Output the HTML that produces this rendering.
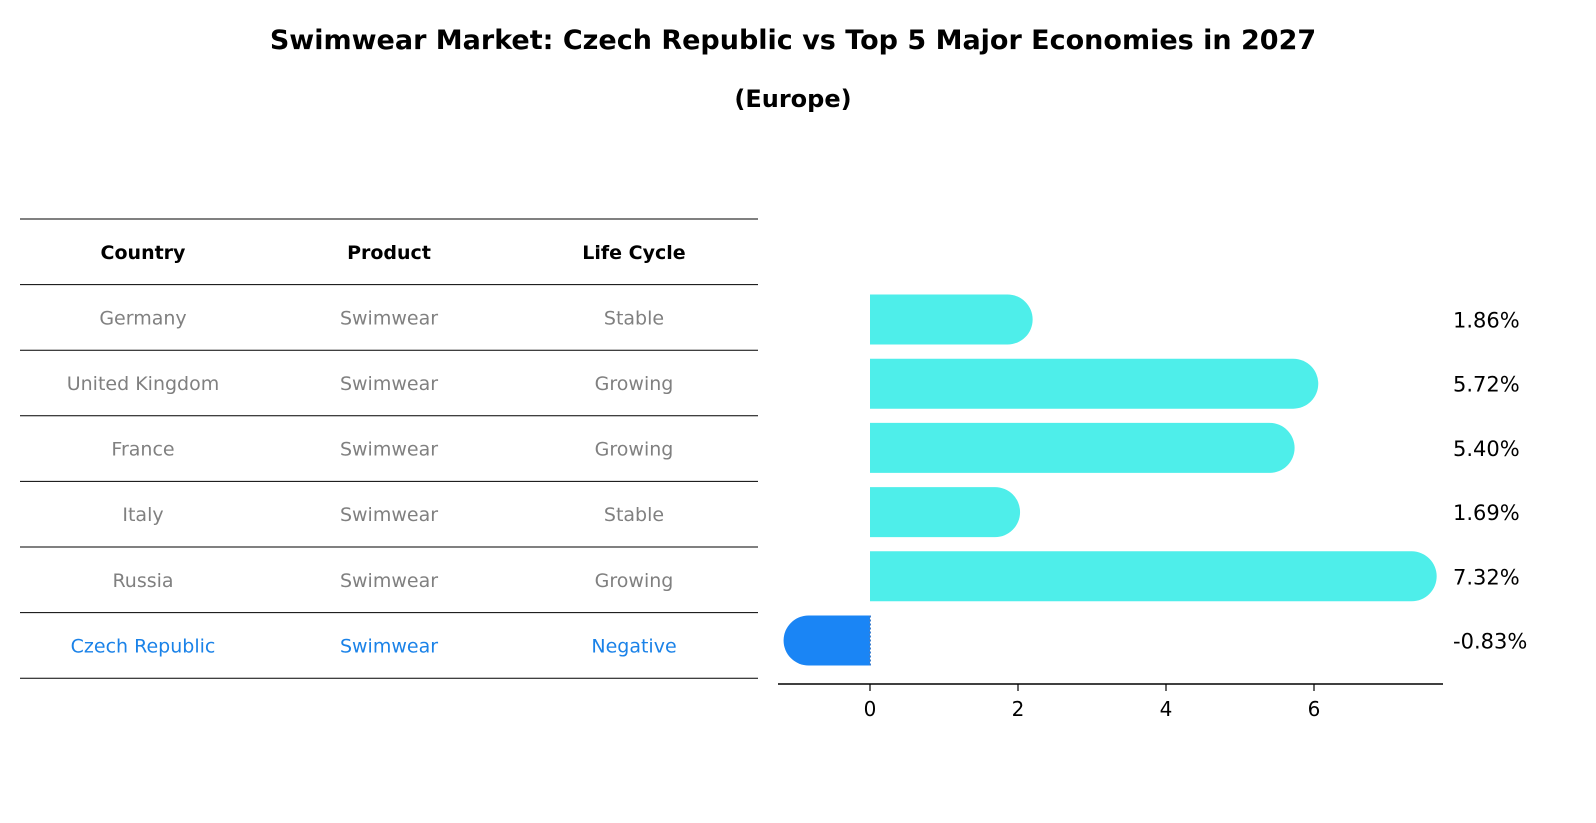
<!DOCTYPE html>
<html><head><meta charset="utf-8"><style>
html,body{margin:0;padding:0;background:#fff;overflow:hidden;width:1596px;height:823px;}
svg{display:block;}
svg text{font-family:"DejaVu Sans","Liberation Sans",sans-serif;}
</style></head><body>
<svg width="1596" height="823" viewBox="0 0 1596 823" xmlns="http://www.w3.org/2000/svg">
<text x="793" y="49" text-anchor="middle" font-size="27" font-weight="bold">Swimwear Market: Czech Republic vs Top 5 Major Economies in 2027</text>
<text x="793" y="107" text-anchor="middle" font-size="24" font-weight="bold">(Europe)</text>
<g id="table"></g>
<g id="bars"></g>
</svg>
<script>
const countries=["Germany","United Kingdom","France","Italy","Russia","Czech Republic"];
const products=["Swimwear","Swimwear","Swimwear","Swimwear","Swimwear","Swimwear"];
const lifeCycles=["Stable","Growing","Growing","Stable","Growing","Negative"];
const values=[1.86,5.72,5.40,1.69,7.32,-0.83];
const ticks=[0,2,4,6];
const NS="http://www.w3.org/2000/svg";
function mk(tag,attrs,parent,text){const e=document.createElementNS(NS,tag);for(const k in attrs)e.setAttribute(k,attrs[k]);if(text!==undefined)e.textContent=text;parent.appendChild(e);return e;}
const tbl=document.getElementById('table');
const rowTop=219,rowH=65.6,colX=[143,389,634];
const headers=["Country","Product","Life Cycle"];
for(let i=0;i<=countries.length+1;i++){
  const l=mk('line',{x1:20,x2:758,y1:rowTop+i*rowH,y2:rowTop+i*rowH,stroke:'#000','stroke-width':1},tbl);
  
  
}
headers.forEach((h,j)=>{
  const t=mk('text',{x:colX[j],y:rowTop+rowH/2+7,'text-anchor':'middle','font-size':19,'font-weight':'bold'},tbl,h);
  
  
});
countries.forEach((c,i)=>{
  const y=rowTop+(i+1.5)*rowH+7;
  const col=i===countries.length-1?'#1a82e8':'#808080';
  [c,products[i],lifeCycles[i]].forEach((v,j)=>{
    const t=mk('text',{x:colX[j],y:y,'text-anchor':'middle','font-size':19,fill:col},tbl,v);
    
    
  });
});
const bars=document.getElementById('bars');
const x0=870,ppu=74;
const X=v=>x0+v*ppu;
const cy0=319.5,step=64.2,bh=50,r=25;
values.forEach((v,i)=>{
  const cy=cy0+i*step;
  const neg=v<0;
  const col=neg?'#1a85f5':'#4eeeea';
  const xe=X(v);
  let d;
  if(!neg) d=`M${x0},${cy-r} L${xe},${cy-r} A${r},${r} 0 0 1 ${xe},${cy+r} L${x0},${cy+r} Z`;
  else d=`M${x0},${cy-r} L${xe},${cy-r} A${r},${r} 0 0 0 ${xe},${cy+r} L${x0},${cy+r} Z`;
  const p=mk('path',{d:d,fill:col},bars);
  
  
  if(neg){const b=mk('line',{x1:x0,x2:x0,y1:cy-r,y2:cy+r,stroke:'#3b7fd0','stroke-width':2,'stroke-dasharray':'2,2'},bars);
    
    }
  const t=mk('text',{x:1453,y:cy+8,'font-size':21},bars,v.toFixed(2)+'%');
  
  
});
const ax=mk('line',{x1:778,x2:1443,y1:684,y2:684,stroke:'#000','stroke-width':1.5},bars);


ticks.forEach(t=>{
  const l=mk('line',{x1:X(t),x2:X(t),y1:684,y2:691,stroke:'#000','stroke-width':1.2},bars);
  
  
  const tx=mk('text',{x:X(t),y:716,'text-anchor':'middle','font-size':20},bars,String(t));
  
  
});
</script>
</body></html>
